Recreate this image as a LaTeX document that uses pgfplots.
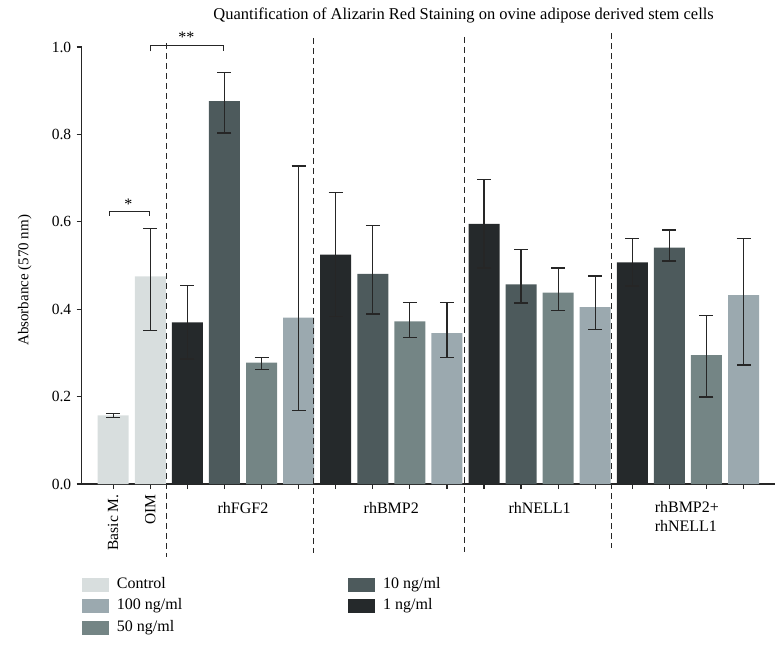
\documentclass[border=0pt]{standalone}
\usepackage{fontspec}
\setmainfont{Liberation Serif}
\usepackage{pgfplots}
\pgfplotsset{compat=1.18}

\definecolor{cControl}{HTML}{D8DEDE}
\definecolor{cHundred}{HTML}{9BA9AF}
\definecolor{cFifty}{HTML}{748585}
\definecolor{cTen}{HTML}{4D5A5C}
\definecolor{cOne}{HTML}{25292B}

\pgfplotsset{
    mybar/.style={
        ybar, bar width=31pt, bar shift=0pt, draw=none, fill=#1,
        legend image code/.code={\fill[fill=#1] (0pt,-7pt) rectangle (27pt,7pt);},
        error bars/.cd, y dir=both, y explicit,
        error bar style={line width=1.3pt, color=black!85},
        error mark options={line width=1.3pt, mark size=7pt, color=black!85, rotate=90},
    },
}

\begin{document}
\fontsize{16}{19}\selectfont
\begin{tikzpicture}
    \begin{axis}[
            scale only axis,
            width=693pt, height=437pt,
            xmin=-0.85, xmax=17.84,
            ymin=0, ymax=1.0,
            axis lines=left,
            axis line style={-, line width=1.3pt, black!85},
            tick align=outside,
            major tick length=5pt,
            tick style={line width=1.3pt, black!85},
            ytick={0,0.2,...,1.0},
            yticklabel style={font=\fontsize{15.5}{18}\selectfont, /pgf/number format/.cd, fixed, fixed zerofill, precision=1, assume math mode=true},
            xtick={0,...,17},
            xticklabels={Basic M.,OIM,,,,,,,,,,,,,,,,},
            xticklabel style={rotate=90, anchor=east, font=\fontsize{15.5}{18}\selectfont},
            ylabel={Absorbance (570 nm)},
            ylabel style={at={(axis description cs:-0.082,0.466)}, anchor=center, font=\fontsize{15}{18}\selectfont},
            clip=false,
            legend columns=2,
            legend style={
                    at={(axis description cs:0,0)}, anchor=north west,
                    yshift=-92pt, draw=none, fill=none, inner sep=0pt,
                    row sep=4.5pt,
                    /tikz/every odd column/.append style={column sep=6pt},
                    /tikz/every even column/.append style={column sep=164pt},
                    nodes={inner sep=2pt, text height=10pt, text depth=3pt},
                    cells={anchor=west},
                },
        ]
        % Control
        \addplot[mybar=cControl] coordinates {
                (0,0.157) +- (0,0.005)
                (1,0.475) += (0,0.109) -= (0,0.123)
            };
        \addlegendentry{Control}
        % 10 ng/ml
        \addplot[mybar=cTen] coordinates {
                (3,0.876) += (0,0.066) -= (0,0.073)
                (7,0.481) += (0,0.110) -= (0,0.092)
                (11,0.457) += (0,0.079) -= (0,0.043)
                (15,0.541) += (0,0.040) -= (0,0.031)
            };
        \addlegendentry{10 ng/ml}
        % 100 ng/ml
        \addplot[mybar=cHundred] coordinates {
                (5,0.381) += (0,0.347) -= (0,0.212)
                (9,0.345) += (0,0.070) -= (0,0.055)
                (13,0.405) += (0,0.071) -= (0,0.051)
                (17,0.432) += (0,0.129) -= (0,0.160)
            };
        \addlegendentry{100 ng/ml}
        % 1 ng/ml
        \addplot[mybar=cOne] coordinates {
                (2,0.370) +- (0,0.084)
                (6,0.525) +- (0,0.142)
                (10,0.595) +- (0,0.101)
                (14,0.507) +- (0,0.054)
            };
        \addlegendentry{1 ng/ml}
        % 50 ng/ml
        \addplot[mybar=cFifty] coordinates {
                (4,0.278) += (0,0.012) -= (0,0.016)
                (8,0.372) += (0,0.043) -= (0,0.037)
                (12,0.438) += (0,0.056) -= (0,0.041)
                (16,0.295) += (0,0.091) -= (0,0.096)
            };
        \addlegendentry{50 ng/ml}

        % group separators
        \draw[black!85, line width=1.2pt, dash pattern=on 6pt off 4pt] (axis cs:1.44,1.009) -- (axis cs:1.44,-0.167);
        \draw[black!85, line width=1.2pt, dash pattern=on 6pt off 4pt] (axis cs:5.41,1.021) -- (axis cs:5.41,-0.158);
        \draw[black!85, line width=1.2pt, dash pattern=on 6pt off 4pt] (axis cs:9.47,1.023) -- (axis cs:9.47,-0.156);
        \draw[black!85, line width=1.2pt, dash pattern=on 6pt off 4pt] (axis cs:13.43,1.032) -- (axis cs:13.43,-0.147);

        % group labels
        \node[anchor=base] at (axis cs:3.5,0) [yshift=-29pt] {rhFGF2};
        \node[anchor=base] at (axis cs:7.5,0) [yshift=-29pt] {rhBMP2};
        \node[anchor=base] at (axis cs:11.5,0) [yshift=-29pt] {rhNELL1};
        \node[anchor=base west, align=left, inner sep=0pt] at (axis cs:14.6,0) [yshift=-47.5pt] {rhBMP2+\\rhNELL1};

        % significance brackets
        \draw[black!85, line width=1.2pt] (axis cs:-0.09,0.614) -- (axis cs:-0.09,0.623) -- (axis cs:0.98,0.623) -- (axis cs:0.98,0.614);
        \node[anchor=base] at (axis cs:0.41,0.628) {*};
        \draw[black!85, line width=1.2pt] (axis cs:1.01,0.990) -- (axis cs:1.01,1.004) -- (axis cs:2.97,1.004) -- (axis cs:2.97,0.990);
        \node[anchor=base] at (axis cs:1.97,1.010) {**};

        % title
        \node[anchor=base, font=\fontsize{16.5}{19}\selectfont] at (axis cs:9.45,1.062) {Quantification of Alizarin Red Staining on ovine adipose derived stem cells};

        % page frame
        \path (rel axis cs:0,0) ++(-81.7pt,-162pt) rectangle ++(781pt,646pt);
    \end{axis}
\end{tikzpicture}
\end{document}
